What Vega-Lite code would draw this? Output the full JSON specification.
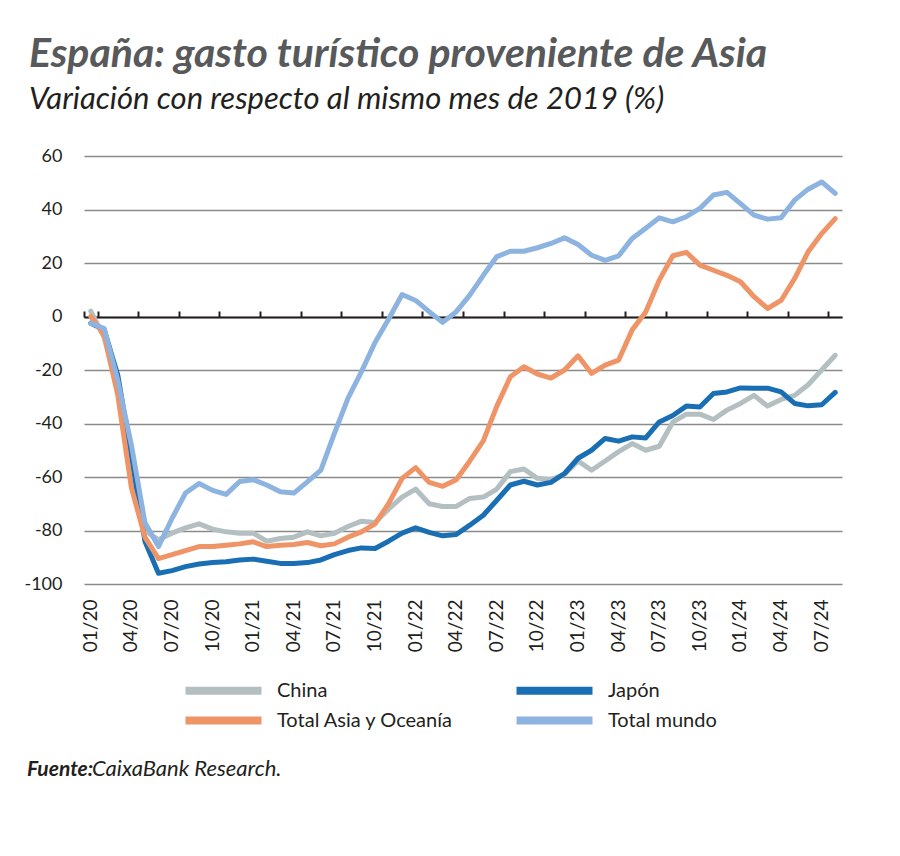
{
  "$schema": "https://vega.github.io/schema/vega-lite/v6.json",
  "background": "white",
  "padding": {"left": 23, "top": 34, "right": 20, "bottom": 10},
  "config": {"view": {"stroke": null}, "font": "Lato", "concat": {"spacing": 106}},
  "datasets": {
    "series": [
      {"m":"01/20","s":"China","v":2},{"m":"02/20","s":"China","v":-8},{"m":"03/20","s":"China","v":-28},{"m":"04/20","s":"China","v":-62},{"m":"05/20","s":"China","v":-80},{"m":"06/20","s":"China","v":-83.5},{"m":"07/20","s":"China","v":-81},{"m":"08/20","s":"China","v":-79},{"m":"09/20","s":"China","v":-77.5},{"m":"10/20","s":"China","v":-79.5},{"m":"11/20","s":"China","v":-80.5},{"m":"12/20","s":"China","v":-81},
      {"m":"01/21","s":"China","v":-81},{"m":"02/21","s":"China","v":-84},{"m":"03/21","s":"China","v":-83},{"m":"04/21","s":"China","v":-82.5},{"m":"05/21","s":"China","v":-80.5},{"m":"06/21","s":"China","v":-82},{"m":"07/21","s":"China","v":-81},{"m":"08/21","s":"China","v":-78.5},{"m":"09/21","s":"China","v":-76.5},{"m":"10/21","s":"China","v":-77},{"m":"11/21","s":"China","v":-72},{"m":"12/21","s":"China","v":-67.5},
      {"m":"01/22","s":"China","v":-64.5},{"m":"02/22","s":"China","v":-70},{"m":"03/22","s":"China","v":-71},{"m":"04/22","s":"China","v":-71},{"m":"05/22","s":"China","v":-68},{"m":"06/22","s":"China","v":-67.5},{"m":"07/22","s":"China","v":-64.5},{"m":"08/22","s":"China","v":-58},{"m":"09/22","s":"China","v":-57},{"m":"10/22","s":"China","v":-60.5},{"m":"11/22","s":"China","v":-61},{"m":"12/22","s":"China","v":-59},
      {"m":"01/23","s":"China","v":-54},{"m":"02/23","s":"China","v":-57.5},{"m":"03/23","s":"China","v":-54},{"m":"04/23","s":"China","v":-50.5},{"m":"05/23","s":"China","v":-47.5},{"m":"06/23","s":"China","v":-50},{"m":"07/23","s":"China","v":-48.5},{"m":"08/23","s":"China","v":-39.5},{"m":"09/23","s":"China","v":-36.5},{"m":"10/23","s":"China","v":-36.5},{"m":"11/23","s":"China","v":-38.5},{"m":"12/23","s":"China","v":-35},
      {"m":"01/24","s":"China","v":-32.5},{"m":"02/24","s":"China","v":-29.5},{"m":"03/24","s":"China","v":-33.5},{"m":"04/24","s":"China","v":-31},{"m":"05/24","s":"China","v":-29.5},{"m":"06/24","s":"China","v":-25.5},{"m":"07/24","s":"China","v":-20},{"m":"08/24","s":"China","v":-14.5},

      {"m":"01/20","s":"Japón","v":-2.5},{"m":"02/20","s":"Japón","v":-5},{"m":"03/20","s":"Japón","v":-22},{"m":"04/20","s":"Japón","v":-52},{"m":"05/20","s":"Japón","v":-84},{"m":"06/20","s":"Japón","v":-96},{"m":"07/20","s":"Japón","v":-95},{"m":"08/20","s":"Japón","v":-93.5},{"m":"09/20","s":"Japón","v":-92.5},{"m":"10/20","s":"Japón","v":-92},{"m":"11/20","s":"Japón","v":-91.7},{"m":"12/20","s":"Japón","v":-91},
      {"m":"01/21","s":"Japón","v":-90.7},{"m":"02/21","s":"Japón","v":-91.5},{"m":"03/21","s":"Japón","v":-92.3},{"m":"04/21","s":"Japón","v":-92.3},{"m":"05/21","s":"Japón","v":-92},{"m":"06/21","s":"Japón","v":-91},{"m":"07/21","s":"Japón","v":-89},{"m":"08/21","s":"Japón","v":-87.5},{"m":"09/21","s":"Japón","v":-86.5},{"m":"10/21","s":"Japón","v":-86.7},{"m":"11/21","s":"Japón","v":-84},{"m":"12/21","s":"Japón","v":-81},
      {"m":"01/22","s":"Japón","v":-79},{"m":"02/22","s":"Japón","v":-80.7},{"m":"03/22","s":"Japón","v":-82},{"m":"04/22","s":"Japón","v":-81.5},{"m":"05/22","s":"Japón","v":-78},{"m":"06/22","s":"Japón","v":-74.3},{"m":"07/22","s":"Japón","v":-68.7},{"m":"08/22","s":"Japón","v":-63},{"m":"09/22","s":"Japón","v":-61.6},{"m":"10/22","s":"Japón","v":-63},{"m":"11/22","s":"Japón","v":-62},{"m":"12/22","s":"Japón","v":-58.7},
      {"m":"01/23","s":"Japón","v":-53},{"m":"02/23","s":"Japón","v":-50},{"m":"03/23","s":"Japón","v":-45.6},{"m":"04/23","s":"Japón","v":-46.6},{"m":"05/23","s":"Japón","v":-45},{"m":"06/23","s":"Japón","v":-45.4},{"m":"07/23","s":"Japón","v":-39.4},{"m":"08/23","s":"Japón","v":-37},{"m":"09/23","s":"Japón","v":-33.5},{"m":"10/23","s":"Japón","v":-33.8},{"m":"11/23","s":"Japón","v":-28.8},{"m":"12/23","s":"Japón","v":-28.2},
      {"m":"01/24","s":"Japón","v":-26.7},{"m":"02/24","s":"Japón","v":-26.8},{"m":"03/24","s":"Japón","v":-26.8},{"m":"04/24","s":"Japón","v":-28.2},{"m":"05/24","s":"Japón","v":-32.5},{"m":"06/24","s":"Japón","v":-33.4},{"m":"07/24","s":"Japón","v":-33},{"m":"08/24","s":"Japón","v":-28.4},

      {"m":"01/20","s":"Total Asia y Oceanía","v":0},{"m":"02/20","s":"Total Asia y Oceanía","v":-7},{"m":"03/20","s":"Total Asia y Oceanía","v":-29.5},{"m":"04/20","s":"Total Asia y Oceanía","v":-64},{"m":"05/20","s":"Total Asia y Oceanía","v":-82.5},{"m":"06/20","s":"Total Asia y Oceanía","v":-90.5},{"m":"07/20","s":"Total Asia y Oceanía","v":-89},{"m":"08/20","s":"Total Asia y Oceanía","v":-87.5},{"m":"09/20","s":"Total Asia y Oceanía","v":-86},{"m":"10/20","s":"Total Asia y Oceanía","v":-86},{"m":"11/20","s":"Total Asia y Oceanía","v":-85.5},{"m":"12/20","s":"Total Asia y Oceanía","v":-85},
      {"m":"01/21","s":"Total Asia y Oceanía","v":-84.2},{"m":"02/21","s":"Total Asia y Oceanía","v":-86},{"m":"03/21","s":"Total Asia y Oceanía","v":-85.5},{"m":"04/21","s":"Total Asia y Oceanía","v":-85.2},{"m":"05/21","s":"Total Asia y Oceanía","v":-84.5},{"m":"06/21","s":"Total Asia y Oceanía","v":-85.7},{"m":"07/21","s":"Total Asia y Oceanía","v":-85},{"m":"08/21","s":"Total Asia y Oceanía","v":-82.5},{"m":"09/21","s":"Total Asia y Oceanía","v":-80.5},{"m":"10/21","s":"Total Asia y Oceanía","v":-77.5},{"m":"11/21","s":"Total Asia y Oceanía","v":-70},{"m":"12/21","s":"Total Asia y Oceanía","v":-60.5},
      {"m":"01/22","s":"Total Asia y Oceanía","v":-56.5},{"m":"02/22","s":"Total Asia y Oceanía","v":-62},{"m":"03/22","s":"Total Asia y Oceanía","v":-63.5},{"m":"04/22","s":"Total Asia y Oceanía","v":-61},{"m":"05/22","s":"Total Asia y Oceanía","v":-54},{"m":"06/22","s":"Total Asia y Oceanía","v":-46.5},{"m":"07/22","s":"Total Asia y Oceanía","v":-33.5},{"m":"08/22","s":"Total Asia y Oceanía","v":-22.5},{"m":"09/22","s":"Total Asia y Oceanía","v":-18.8},{"m":"10/22","s":"Total Asia y Oceanía","v":-21.5},{"m":"11/22","s":"Total Asia y Oceanía","v":-23},{"m":"12/22","s":"Total Asia y Oceanía","v":-20},
      {"m":"01/23","s":"Total Asia y Oceanía","v":-14.7},{"m":"02/23","s":"Total Asia y Oceanía","v":-21.3},{"m":"03/23","s":"Total Asia y Oceanía","v":-18.2},{"m":"04/23","s":"Total Asia y Oceanía","v":-16.3},{"m":"05/23","s":"Total Asia y Oceanía","v":-5},{"m":"06/23","s":"Total Asia y Oceanía","v":1.7},{"m":"07/23","s":"Total Asia y Oceanía","v":13.6},{"m":"08/23","s":"Total Asia y Oceanía","v":22.7},{"m":"09/23","s":"Total Asia y Oceanía","v":24},{"m":"10/23","s":"Total Asia y Oceanía","v":19.2},{"m":"11/23","s":"Total Asia y Oceanía","v":17.3},{"m":"12/23","s":"Total Asia y Oceanía","v":15.4},
      {"m":"01/24","s":"Total Asia y Oceanía","v":13},{"m":"02/24","s":"Total Asia y Oceanía","v":7.4},{"m":"03/24","s":"Total Asia y Oceanía","v":3},{"m":"04/24","s":"Total Asia y Oceanía","v":6},{"m":"05/24","s":"Total Asia y Oceanía","v":14.2},{"m":"06/24","s":"Total Asia y Oceanía","v":24.2},{"m":"07/24","s":"Total Asia y Oceanía","v":31},{"m":"08/24","s":"Total Asia y Oceanía","v":36.6},

      {"m":"01/20","s":"Total mundo","v":-2.5},{"m":"02/20","s":"Total mundo","v":-4.5},{"m":"03/20","s":"Total mundo","v":-24},{"m":"04/20","s":"Total mundo","v":-48},{"m":"05/20","s":"Total mundo","v":-77},{"m":"06/20","s":"Total mundo","v":-86},{"m":"07/20","s":"Total mundo","v":-75.5},{"m":"08/20","s":"Total mundo","v":-66},{"m":"09/20","s":"Total mundo","v":-62.4},{"m":"10/20","s":"Total mundo","v":-65},{"m":"11/20","s":"Total mundo","v":-66.5},{"m":"12/20","s":"Total mundo","v":-61.7},
      {"m":"01/21","s":"Total mundo","v":-61},{"m":"02/21","s":"Total mundo","v":-63},{"m":"03/21","s":"Total mundo","v":-65.5},{"m":"04/21","s":"Total mundo","v":-66},{"m":"05/21","s":"Total mundo","v":-61.8},{"m":"06/21","s":"Total mundo","v":-57.4},{"m":"07/21","s":"Total mundo","v":-43.7},{"m":"08/21","s":"Total mundo","v":-30.6},{"m":"09/21","s":"Total mundo","v":-20.6},{"m":"10/21","s":"Total mundo","v":-9.7},{"m":"11/21","s":"Total mundo","v":-1},{"m":"12/21","s":"Total mundo","v":8.2},
      {"m":"01/22","s":"Total mundo","v":6},{"m":"02/22","s":"Total mundo","v":1.8},{"m":"03/22","s":"Total mundo","v":-2.2},{"m":"04/22","s":"Total mundo","v":1.8},{"m":"05/22","s":"Total mundo","v":8},{"m":"06/22","s":"Total mundo","v":15.4},{"m":"07/22","s":"Total mundo","v":22.4},{"m":"08/22","s":"Total mundo","v":24.4},{"m":"09/22","s":"Total mundo","v":24.4},{"m":"10/22","s":"Total mundo","v":25.7},{"m":"11/22","s":"Total mundo","v":27.3},{"m":"12/22","s":"Total mundo","v":29.4},
      {"m":"01/23","s":"Total mundo","v":26.9},{"m":"02/23","s":"Total mundo","v":22.9},{"m":"03/23","s":"Total mundo","v":21},{"m":"04/23","s":"Total mundo","v":22.7},{"m":"05/23","s":"Total mundo","v":29.2},{"m":"06/23","s":"Total mundo","v":33},{"m":"07/23","s":"Total mundo","v":36.9},{"m":"08/23","s":"Total mundo","v":35.4},{"m":"09/23","s":"Total mundo","v":37.3},{"m":"10/23","s":"Total mundo","v":40.4},{"m":"11/23","s":"Total mundo","v":45.4},{"m":"12/23","s":"Total mundo","v":46.4},
      {"m":"01/24","s":"Total mundo","v":42.2},{"m":"02/24","s":"Total mundo","v":37.9},{"m":"03/24","s":"Total mundo","v":36.4},{"m":"04/24","s":"Total mundo","v":36.9},{"m":"05/24","s":"Total mundo","v":43.5},{"m":"06/24","s":"Total mundo","v":47.6},{"m":"07/24","s":"Total mundo","v":50.3},{"m":"08/24","s":"Total mundo","v":46}
    ]
  },
  "vconcat": [
    {
      "title": {
        "text": "España: gasto turístico proveniente de Asia",
        "subtitle": "Variación con respecto al mismo mes de 2019 (%)",
        "anchor": "start",
        "frame": "bounds",
        "dx": 5,
        "font": "Lato",
        "fontSize": 41,
        "fontStyle": "italic",
        "fontWeight": "bold",
        "color": "#58595b",
        "subtitleFont": "Lato",
        "subtitleFontSize": 31,
        "subtitleFontStyle": "italic",
        "subtitleColor": "#231f20",
        "subtitlePadding": 9,
        "offset": 31
      },
      "width": 758,
      "height": 428,
      "data": {"name": "series"},
      "layer": [
        {
          "mark": {"type": "line", "strokeWidth": 5, "strokeJoin": "round", "strokeCap": "round"},
          "encoding": {
            "x": {
              "field": "m", "type": "ordinal", "sort": null,
              "scale": {"type": "band", "paddingInner": 0, "paddingOuter": 0},
              "axis": {
                "orient": "bottom", "title": null, "domain": false, "ticks": false, "grid": false,
                "values": ["01/20","04/20","07/20","10/20","01/21","04/21","07/21","10/21","01/22","04/22","07/22","10/22","01/23","04/23","07/23","10/23","01/24","04/24","07/24"],
                "labelAngle": 270, "labelFontSize": 19, "labelPadding": 15, "labelColor": "#231f20", "labelFont": "Lato"
              }
            },
            "y": {
              "field": "v", "type": "quantitative",
              "scale": {"domain": [-100, 60], "nice": false, "zero": false},
              "axis": {
                "title": null, "domain": false, "ticks": false, "grid": true,
                "values": [-100, -80, -60, -40, -20, 0, 20, 40, 60],
                "labelExpr": "datum.value",
                "gridColor": "#8a8a8a", "gridWidth": 1.4,
                "labelFontSize": 18, "labelPadding": 22, "labelColor": "#231f20", "labelFont": "Lato"
              }
            },
            "color": {
              "field": "s", "type": "nominal",
              "scale": {"domain": ["China", "Japón", "Total Asia y Oceanía", "Total mundo"], "range": ["#b4bfc2", "#1a6fb4", "#ef9466", "#8db3e0"]},
              "legend": {
                "orient": "none", "legendX": 126, "legendY": 521, "direction": "horizontal", "columns": 2,
                "title": null, "symbolType": "M-4,0H4", "symbolSize": 361, "symbolStrokeWidth": 8,
                "labelFontSize": 20, "labelColor": "#231f20", "labelFont": "Lato", "labelOffset": 40,
                "columnPadding": 46, "rowPadding": -3, "labelLimit": 300
              }
            }
          }
        },
        {
          "mark": {"type": "point", "opacity": 0},
          "encoding": {
            "x": {
              "field": "m", "type": "ordinal", "sort": null,
              "axis": {
                "orient": "top", "offset": -161, "title": null, "labels": false, "grid": false,
                "domain": true, "domainColor": "#231f20", "domainWidth": 2,
                "ticks": true, "tickBand": "extent", "tickSize": 6, "tickWidth": 2, "tickColor": "#231f20",
                "values": ["01/20","04/20","07/20","10/20","01/21","04/21","07/21","10/21","01/22","04/22","07/22","10/22","01/23","04/23","07/23","10/23","01/24","04/24","07/24"]
              }
            },
            "y": {"field": "v", "type": "quantitative"}
          }
        }
      ],
      "resolve": {"axis": {"x": "independent"}}
    },
    {
      "width": 758,
      "height": 22,
      "layer": [
        {
          "data": {"values": [{"t": "Fuente:"}]},
          "mark": {"type": "text", "align": "left", "baseline": "alphabetic", "font": "Lato", "fontSize": 21, "fontStyle": "italic", "fontWeight": "bold", "color": "#231f20"},
          "encoding": {"text": {"field": "t"}, "x": {"value": -57}, "y": {"value": 18}}
        },
        {
          "data": {"values": [{"t": "CaixaBank Research."}]},
          "mark": {"type": "text", "align": "left", "baseline": "alphabetic", "font": "Lato", "fontSize": 22, "fontStyle": "italic", "color": "#231f20", "dx": 65},
          "encoding": {"text": {"field": "t"}, "x": {"value": -57}, "y": {"value": 18}}
        }
      ]
    }
  ]
}
